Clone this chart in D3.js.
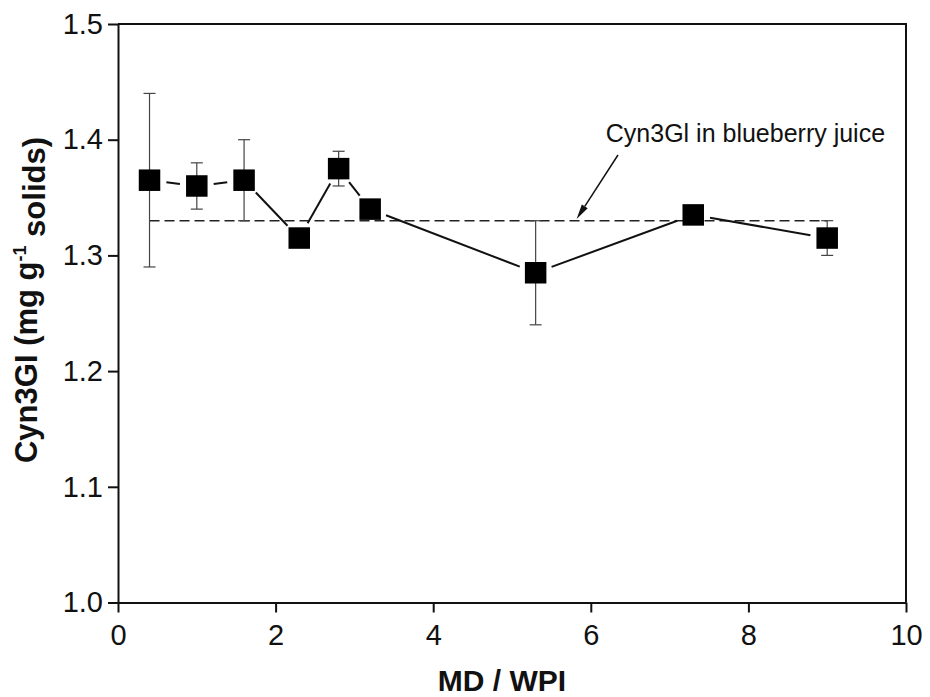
<!DOCTYPE html>
<html>
<head>
<meta charset="utf-8">
<script src="https://cdn.jsdelivr.net/npm/d3@7"></script>
<style>
  html, body { margin: 0; padding: 0; background: #fff; }
  svg { display: block; font-family: "Liberation Sans", Arial, Helvetica, sans-serif; }
</style>
</head>
<body>
<svg id="chart" width="930" height="697"></svg>
<script>
// MD/WPI ratio vs. Cyn3Gl content
const ratio   = [0.4, 1.0, 1.6, 2.3, 2.8, 3.2, 5.3, 7.3, 9.0];
const cyn3gl  = [1.365, 1.360, 1.365, 1.315, 1.375, 1.340, 1.285, 1.335, 1.315];
const errBar  = [0.075, 0.020, 0.035, 0.005, 0.015, 0.005, 0.045, 0.005, 0.015];

// Reference level of Cyn3Gl in blueberry juice
const juiceLevel = 1.33;
const juiceLabel = "Cyn3Gl in blueberry juice";

const xTicks = [0, 2, 4, 6, 8, 10];
const yTicks = [1.0, 1.1, 1.2, 1.3, 1.4, 1.5];

const svg = d3.select("#chart");
const plotL = 118, plotR = 906, plotT = 24, plotB = 602.5;

const x = d3.scaleLinear().domain([0, 10]).range([plotL, plotR]);
const y = d3.scaleLinear().domain([1.0, 1.5]).range([plotB, plotT]);

const points = ratio.map((r, i) => ({ x: r, y: cyn3gl[i], e: errBar[i] }));

// frame (top and right)
svg.append("path")
  .attr("d", `M${plotL},${plotT}H${plotR}V${plotB}`)
  .attr("fill", "none").attr("stroke", "#111").attr("stroke-width", 2);

// axes
const xAxis = svg.append("g")
  .attr("transform", `translate(0,${plotB})`)
  .call(d3.axisBottom(x).tickValues(xTicks).tickFormat(d3.format("d")).tickSize(10).tickSizeOuter(0).tickPadding(12));
const yAxis = svg.append("g")
  .attr("transform", `translate(${plotL},0)`)
  .call(d3.axisLeft(y).tickValues(yTicks).tickFormat(d3.format(".1f")).tickSize(10).tickSizeOuter(0).tickPadding(5));

[xAxis, yAxis].forEach(g => {
  g.select(".domain").attr("stroke", "#111").attr("stroke-width", 2);
  g.selectAll(".tick line").attr("stroke", "#111").attr("stroke-width", 2);
  g.selectAll(".tick text").attr("fill", "#111").style("font-size", "29px")
    .style("font-family", '"Liberation Sans", Arial, sans-serif');
});

// reference line
svg.append("line")
  .attr("x1", x(ratio[0])).attr("x2", x(ratio[ratio.length - 1]))
  .attr("y1", y(juiceLevel)).attr("y2", y(juiceLevel))
  .attr("stroke", "#222").attr("stroke-width", 1.5)
  .attr("stroke-dasharray", "10,5");

// error bars
const capW = 6;
const eb = svg.append("g").attr("stroke", "#444").attr("stroke-width", 1.2);
points.forEach(p => {
  const cx = x(p.x), y1 = y(p.y + p.e), y2 = y(p.y - p.e);
  eb.append("line").attr("x1", cx).attr("x2", cx).attr("y1", y1).attr("y2", y2);
  eb.append("line").attr("x1", cx - capW).attr("x2", cx + capW).attr("y1", y1).attr("y2", y1);
  eb.append("line").attr("x1", cx - capW).attr("x2", cx + capW).attr("y1", y2).attr("y2", y2);
});

// connecting line, with a gap around each marker
const gap = 17;
const lines = svg.append("g").attr("stroke", "#111").attr("stroke-width", 2);
for (let i = 0; i < points.length - 1; i++) {
  const ax = x(points[i].x), ay = y(points[i].y);
  const bx = x(points[i + 1].x), by = y(points[i + 1].y);
  const len = Math.hypot(bx - ax, by - ay);
  if (len <= 2 * gap) continue;
  const ux = (bx - ax) / len, uy = (by - ay) / len;
  lines.append("line")
    .attr("x1", ax + ux * gap).attr("y1", ay + uy * gap)
    .attr("x2", bx - ux * gap).attr("y2", by - uy * gap);
}

// markers
const size = 21.5;
svg.append("g").selectAll("rect").data(points).join("rect")
  .attr("x", d => x(d.x) - size / 2)
  .attr("y", d => y(d.y) - size / 2)
  .attr("width", size).attr("height", size)
  .attr("fill", "#000");

// annotation
svg.append("text")
  .attr("x", x(6.19)).attr("y", y(1.398))
  .attr("fill", "#111").style("font-size", "25px")
  .text(juiceLabel);

const ax0 = x(6.345), ay0 = y(1.3868), ax1 = x(5.82), ay1 = y(1.3315);
const alen = Math.hypot(ax1 - ax0, ay1 - ay0);
const aux = (ax1 - ax0) / alen, auy = (ay1 - ay0) / alen;
const headL = 15, headW = 3.5;
const hbx = ax1 - aux * headL, hby = ay1 - auy * headL;
svg.append("line")
  .attr("x1", ax0).attr("y1", ay0).attr("x2", hbx).attr("y2", hby)
  .attr("stroke", "#111").attr("stroke-width", 1.5);
svg.append("path")
  .attr("d", `M${ax1},${ay1}L${hbx - auy * headW},${hby + aux * headW}L${hbx + auy * headW},${hby - aux * headW}Z`)
  .attr("fill", "#111");

// axis titles
svg.append("text")
  .attr("x", 502).attr("y", 691)
  .attr("text-anchor", "middle")
  .attr("fill", "#111").style("font-size", "30px").style("font-weight", "bold")
  .text("MD / WPI");

const yt = svg.append("text")
  .attr("transform", "translate(37,300) rotate(-90)")
  .attr("text-anchor", "middle")
  .attr("fill", "#111").style("font-size", "31px").style("font-weight", "bold");
yt.append("tspan").text("Cyn3GI (mg g");
yt.append("tspan").attr("dy", "-0.6em").style("font-size", "18px").text("-1");
yt.append("tspan").attr("dy", "0.6em").text(" solids)");
</script>
</body>
</html>
